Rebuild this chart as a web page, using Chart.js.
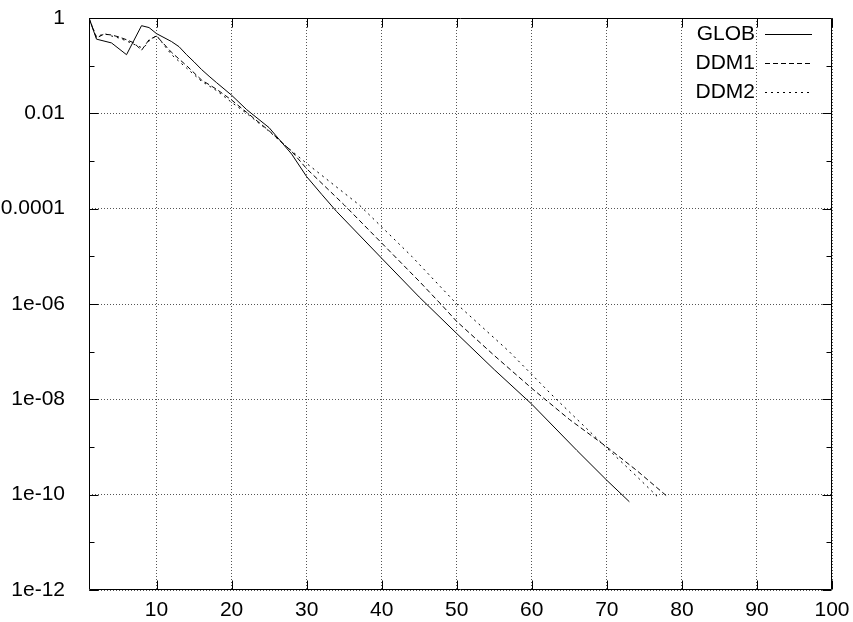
<!DOCTYPE html>
<html>
<head>
<meta charset="utf-8">
<script src="https://cdn.jsdelivr.net/npm/chart.js@4/dist/chart.umd.min.js"></script>
<style>
  body { margin: 0; background: #fff; }
  canvas { display: block; }
</style>
</head>
<body>
<canvas id="residualChart" width="853" height="622"></canvas>
<script>
// Residual history
const globIter = [1, 2, 4, 6, 8, 9, 10, 12, 13, 14, 15, 16, 17, 18, 20, 22, 25, 28, 30, 32, 34, 40, 45, 50, 55, 60, 66, 70, 73];
const globRes = [1, 3.6e-1, 3.0e-1, 1.7e-1, 6.9e-1, 6.3e-1, 4.7e-1, 3.2e-1, 2.5e-1, 1.7e-1, 1.2e-1, 8.3e-2, 6.0e-2, 4.4e-2,
  2.4e-2, 1.2e-2, 5.0e-3, 1.4e-3, 4.7e-4, 2.0e-4, 8.7e-5, 9.1e-6, 1.4e-6, 2.4e-7, 4.2e-8, 7.9e-9, 8.5e-10, 2.0e-10, 7.1e-11];

const ddm1Iter = [1, 2, 3, 4, 5, 6, 7, 8, 9, 10, 12, 14, 16, 18, 20, 22, 25, 28, 30, 35, 40, 45, 48, 50, 55, 60, 65, 70, 74, 78];
const ddm1Res = [1, 3.8e-1, 4.6e-1, 4.4e-1, 4.0e-1, 3.5e-1, 3.0e-1, 2.1e-1, 3.5e-1, 4.2e-1, 1.9e-1, 1.0e-1, 5.0e-2, 3.2e-2,
  1.9e-2, 1.05e-2, 4.3e-3, 1.6e-3, 6.9e-4, 1.2e-4, 1.9e-5, 3.0e-6, 9.5e-7, 4.3e-7, 8.3e-8, 1.7e-8, 3.8e-9, 1.0e-9, 3.2e-10, 9.3e-11];

const ddm2Iter = [1, 2, 3, 4, 5, 6, 7, 8, 8.5, 9, 10, 12, 14, 16, 18, 20, 22, 25, 27, 30, 37, 44, 50, 57, 63, 70, 74, 77];
const ddm2Res = [1, 4.0e-1, 4.7e-1, 4.2e-1, 3.8e-1, 3.3e-1, 2.8e-1, 2.4e-1, 2.6e-1, 3.3e-1, 4.3e-1, 1.7e-1, 8.9e-2, 4.7e-2,
  3.0e-2, 1.7e-2, 1.0e-2, 4.2e-3, 2.2e-3, 8.9e-4, 1.2e-4, 1.0e-5, 1.0e-6, 1.0e-7, 1.1e-8, 9.5e-10, 2.4e-10, 8.3e-11];

// Axis ticks
const xTickValues = [10, 20, 30, 40, 50, 60, 70, 80, 90, 100];
const yTickValues = [1, 1e-2, 1e-4, 1e-6, 1e-8, 1e-10, 1e-12];
const yTickLabels = ['1', '0.01', '0.0001', '1e-06', '1e-08', '1e-10', '1e-12'];
const yMinorValues = [1e-1, 1e-3, 1e-5, 1e-7, 1e-9, 1e-11];

function toPoints(xs, ys) {
  return xs.map((x, i) => ({ x: x, y: ys[i] }));
}

Chart.defaults.font.family = '"Liberation Sans", Arial, sans-serif';
Chart.defaults.font.size = 21;
Chart.defaults.color = '#000';

// gnuplot style frame, inward tics and key (line sample right of the title)
const frameAndKey = {
  id: 'frameAndKey',
  afterDatasetsDraw(chart) {
    const { ctx, chartArea: a, scales } = chart;
    const xs = scales.x, ys = scales.y;
    const L = Math.round(a.left) + 0.5, R = Math.round(a.right) - 0.5;
    const T = Math.round(a.top) + 0.5, B = Math.round(a.bottom) - 0.5;
    ctx.save();
    ctx.strokeStyle = '#000';
    ctx.lineWidth = 1;
    ctx.setLineDash([]);
    ctx.beginPath();
    ctx.rect(L, T, R - L, B - T);

    xTickValues.forEach(v => {
      const px = Math.round(xs.getPixelForValue(v)) + 0.5;
      ctx.moveTo(px, B); ctx.lineTo(px, B - 9);
      ctx.moveTo(px, T); ctx.lineTo(px, T + 9);
    });
    yTickValues.forEach(v => {
      const py = Math.round(ys.getPixelForValue(v)) + 0.5;
      ctx.moveTo(L, py); ctx.lineTo(L + 9, py);
      ctx.moveTo(R, py); ctx.lineTo(R - 9, py);
    });
    yMinorValues.forEach(v => {
      const py = Math.round(ys.getPixelForValue(v)) + 0.5;
      ctx.moveTo(L, py); ctx.lineTo(L + 5, py);
      ctx.moveTo(R, py); ctx.lineTo(R - 5, py);
    });
    ctx.stroke();

    // key
    ctx.font = '21px "Liberation Sans", Arial, sans-serif';
    ctx.textAlign = 'right';
    ctx.textBaseline = 'middle';
    ctx.fillStyle = '#000';
    chart.data.datasets.forEach((ds, i) => {
      const yy = 34 + i * 29;
      ctx.fillText(ds.label, 755, yy);
      ctx.setLineDash(ds.borderDash || []);
      ctx.beginPath();
      ctx.moveTo(765, yy + 0.5);
      ctx.lineTo(812, yy + 0.5);
      ctx.stroke();
    });
    ctx.restore();
  }
};

new Chart(document.getElementById('residualChart'), {
  type: 'line',
  data: {
    datasets: [
      {
        label: 'GLOB',
        data: toPoints(globIter, globRes),
        borderColor: '#000',
        borderWidth: 1,
        pointRadius: 0,
        tension: 0
      },
      {
        label: 'DDM1',
        data: toPoints(ddm1Iter, ddm1Res),
        borderColor: '#000',
        borderWidth: 1,
        borderDash: [5, 3],
        pointRadius: 0,
        tension: 0
      },
      {
        label: 'DDM2',
        data: toPoints(ddm2Iter, ddm2Res),
        borderColor: '#000',
        borderWidth: 1,
        borderDash: [2, 4],
        pointRadius: 0,
        tension: 0
      }
    ]
  },
  options: {
    responsive: false,
    animation: false,
    layout: {
      padding: { top: 18, right: 21, left: 0, bottom: 0 }
    },
    plugins: {
      legend: { display: false },
      tooltip: { enabled: false }
    },
    scales: {
      x: {
        type: 'linear',
        min: 1,
        max: 100,
        afterBuildTicks: scale => {
          scale.ticks = xTickValues.map(v => ({ value: v }));
        },
        afterFit: scale => {
          scale.height = 32;
          scale.paddingLeft = 0;
          scale.paddingRight = 0;
        },
        ticks: {
          autoSkip: false,
          maxRotation: 0,
          padding: 8,
          callback: value => String(value)
        },
        grid: {
          color: '#555',
          lineWidth: 1,
          drawTicks: false
        },
        border: { display: false, dash: [1, 2] }
      },
      y: {
        type: 'logarithmic',
        min: 1e-12,
        max: 1,
        afterBuildTicks: scale => {
          scale.ticks = yTickValues.map(v => ({ value: v }));
        },
        afterFit: scale => {
          scale.width = 89;
          scale.paddingTop = 0;
          scale.paddingBottom = 0;
        },
        ticks: {
          autoSkip: false,
          padding: 24,
          callback: (value, index) => yTickLabels[index]
        },
        grid: {
          color: '#555',
          lineWidth: 1,
          drawTicks: false
        },
        border: { display: false, dash: [1, 2] }
      }
    }
  },
  plugins: [frameAndKey]
});
</script>
</body>
</html>
